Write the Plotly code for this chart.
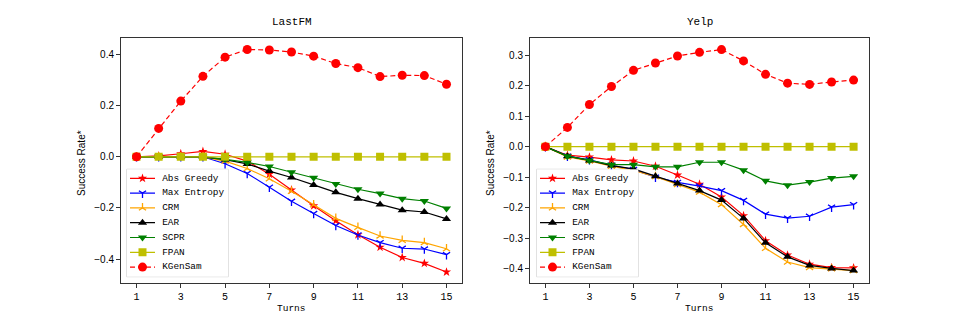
import plotly.graph_objs as go

# Turns on the x axis
turns = list(range(1, 16))

# LastFM success rate* per method
lastfm_abs_greedy = [0.0, 0.004, 0.012, 0.021, 0.010, -0.017, -0.068, -0.130, -0.192, -0.250, -0.305, -0.354, -0.394, -0.417, -0.451]
lastfm_max_entropy = [0.0, 0.0, 0.0, 0.0, -0.027, -0.065, -0.119, -0.174, -0.222, -0.269, -0.306, -0.336, -0.358, -0.361, -0.383]
lastfm_crm = [0.0, 0.0, 0.0, 0.0, -0.017, -0.046, -0.086, -0.135, -0.188, -0.241, -0.276, -0.310, -0.327, -0.336, -0.360]
lastfm_ear = [0.0, 0.0, 0.0, 0.0, -0.011, -0.028, -0.056, -0.081, -0.110, -0.139, -0.164, -0.187, -0.209, -0.216, -0.243]
lastfm_scpr = [0.0, 0.0, 0.0, 0.0, -0.010, -0.022, -0.038, -0.060, -0.082, -0.106, -0.127, -0.144, -0.164, -0.173, -0.202]
lastfm_fpan = [0.0] * 15
lastfm_kgensam = [0.0, 0.111, 0.218, 0.315, 0.390, 0.420, 0.418, 0.410, 0.394, 0.365, 0.349, 0.314, 0.319, 0.318, 0.284]

# Yelp success rate* per method
yelp_abs_greedy = [0.0, -0.028, -0.034, -0.043, -0.047, -0.064, -0.093, -0.123, -0.165, -0.226, -0.308, -0.355, -0.385, -0.396, -0.397]
yelp_max_entropy = [0.0, -0.031, -0.043, -0.061, -0.075, -0.100, -0.117, -0.129, -0.144, -0.176, -0.221, -0.234, -0.228, -0.198, -0.190]
yelp_crm = [0.0, -0.034, -0.047, -0.064, -0.078, -0.098, -0.124, -0.149, -0.190, -0.255, -0.333, -0.378, -0.396, -0.400, -0.406]
yelp_ear = [0.0, -0.031, -0.045, -0.062, -0.073, -0.097, -0.121, -0.144, -0.175, -0.235, -0.315, -0.361, -0.389, -0.399, -0.406]
yelp_scpr = [0.0, -0.031, -0.045, -0.059, -0.059, -0.066, -0.066, -0.051, -0.051, -0.077, -0.112, -0.126, -0.116, -0.103, -0.097]
yelp_fpan = [0.0] * 15
yelp_kgensam = [0.0, 0.063, 0.138, 0.197, 0.250, 0.274, 0.297, 0.309, 0.318, 0.281, 0.237, 0.208, 0.204, 0.212, 0.218]

method_names = ['Abs Greedy', 'Max Entropy', 'CRM', 'EAR', 'SCPR', 'FPAN', 'KGenSam']

# (color, symbol, size, dash) per method
styles = [
    ('#ff0000', 'star', 7, 'solid'),
    ('#0000ff', 'y-down', 6, 'solid'),
    ('#ffa500', 'y-up', 6, 'solid'),
    ('#000000', 'triangle-up', 8, 'solid'),
    ('#008000', 'triangle-down', 8, 'solid'),
    ('#bfbf00', 'square', 8, 'solid'),
    ('#ff0000', 'circle', 9, '5px,3px'),
]

MONO = 'Liberation Mono'
SANS = 'Liberation Sans'
W, H = 969, 323

fig = go.Figure()

def style_marker(color, symbol, size):
    open_marker = symbol.startswith('y-')
    return dict(symbol=symbol, size=size, color=color,
                line=dict(color=color, width=1.3 if open_marker else 0))

panels = [
    ('x', 'y', 'x3', 'y3', [lastfm_abs_greedy, lastfm_max_entropy, lastfm_crm, lastfm_ear, lastfm_scpr, lastfm_fpan, lastfm_kgensam]),
    ('x2', 'y2', 'x4', 'y4', [yelp_abs_greedy, yelp_max_entropy, yelp_crm, yelp_ear, yelp_scpr, yelp_fpan, yelp_kgensam]),
]

for xa, ya, lx, ly, series in panels:
    for name, vals, (color, symbol, size, dash) in zip(method_names, series, styles):
        fig.add_trace(go.Scatter(
            x=turns, y=vals, mode='lines+markers', name=name,
            xaxis=xa, yaxis=ya, showlegend=False,
            line=dict(color=color, width=1.2, dash=dash),
            marker=style_marker(color, symbol, size),
        ))
    # legend drawn on a small helper axis (units: px across, one row per method)
    for i, (name, (color, symbol, size, dash)) in enumerate(zip(method_names, styles)):
        fig.add_trace(go.Scatter(x=[3.3, 28.3], y=[i, i], mode='lines', xaxis=lx, yaxis=ly,
                                 showlegend=False, hoverinfo='skip',
                                 line=dict(color=color, width=1.2, dash=dash)))
        fig.add_trace(go.Scatter(x=[15.8], y=[i], mode='markers', xaxis=lx, yaxis=ly,
                                 showlegend=False, hoverinfo='skip',
                                 marker=style_marker(color, symbol, size)))
        fig.add_trace(go.Scatter(x=[35.5], y=[i], mode='text', text=[name], textposition='middle right',
                                 xaxis=lx, yaxis=ly, showlegend=False, hoverinfo='skip',
                                 textfont=dict(family=MONO, size=9.4, color='black')))

axis_common = dict(showline=True, mirror=True, linecolor='#333333', linewidth=1,
                   ticks='outside', ticklen=4, tickcolor='#333333', showgrid=False,
                   zeroline=False)
xfont = dict(family=MONO, size=10, color='black')
yfont = dict(family=SANS, size=10, color='black')

leg_hidden = dict(visible=False, showgrid=False, zeroline=False, fixedrange=True)
leg_top, leg_bot = 169.3, 276.7

fig.update_layout(
    width=W, height=H,
    margin=dict(l=0, r=0, t=0, b=0),
    plot_bgcolor='white', paper_bgcolor='white',
    showlegend=False,
    xaxis=dict(domain=[121 / W, 462 / W], range=[0.3, 15.7], tickvals=list(range(1, 16, 2)), anchor='y',
               tickfont=xfont, **axis_common),
    yaxis=dict(domain=[1 - 282.5 / H, 1 - 38 / H], range=[-0.492, 0.465], tickvals=[-0.4, -0.2, 0.0, 0.2, 0.4],
               tickformat='.1f', anchor='x', tickfont=yfont, **axis_common),
    xaxis2=dict(domain=[530 / W, 869 / W], range=[0.3, 15.7], tickvals=list(range(1, 16, 2)), anchor='y2',
                tickfont=xfont, **axis_common),
    yaxis2=dict(domain=[1 - 282.5 / H, 1 - 38 / H], range=[-0.445, 0.356],
                tickvals=[-0.4, -0.3, -0.2, -0.1, 0.0, 0.1, 0.2, 0.3],
                tickformat='.1f', anchor='x2', tickfont=yfont, **axis_common),
    xaxis3=dict(domain=[126.7 / W, 228.3 / W], range=[0, 101.6], anchor='y3', **leg_hidden),
    yaxis3=dict(domain=[1 - leg_bot / H, 1 - leg_top / H], range=[6.65, -0.61], anchor='x3', **leg_hidden),
    xaxis4=dict(domain=[536.7 / W, 638.3 / W], range=[0, 101.6], anchor='y4', **leg_hidden),
    yaxis4=dict(domain=[1 - leg_bot / H, 1 - leg_top / H], range=[6.65, -0.61], anchor='x4', **leg_hidden),
)

# legend frames
for lx, ly in [('x3', 'y3'), ('x4', 'y4')]:
    fig.add_shape(type='rect', xref=lx + ' domain', yref=ly + ' domain', x0=0, x1=1, y0=0, y1=1,
                  fillcolor='rgba(255,255,255,0.8)', line=dict(color='#cccccc', width=1), layer='below')

# Titles and axis labels
for x, text in [(291.5 / W, 'LastFM'), (699.5 / W, 'Yelp')]:
    fig.add_annotation(text=text, x=x, y=1 - 22 / H, xref='paper', yref='paper', showarrow=False,
                       xanchor='center', yanchor='middle',
                       font=dict(family=MONO, size=11, color='black'))
    fig.add_annotation(text='Turns', x=x, y=1 - 308 / H, xref='paper', yref='paper', showarrow=False,
                       xanchor='center', yanchor='middle',
                       font=dict(family=MONO, size=9.5, color='black'))
for x in [81 / W, 490 / W]:
    fig.add_annotation(text='Success Rate*', x=x, y=1 - 163 / H, xref='paper', yref='paper', showarrow=False,
                       xanchor='center', yanchor='middle',
                       textangle=-90, font=dict(family=SANS, size=10, color='black'))

# the page body has a default 8px margin; drop it so the figure sits at the window corner
fig.write_html("out.html", config={'displayModeBar': False},
               post_script="document.body.style.margin = '0';")
